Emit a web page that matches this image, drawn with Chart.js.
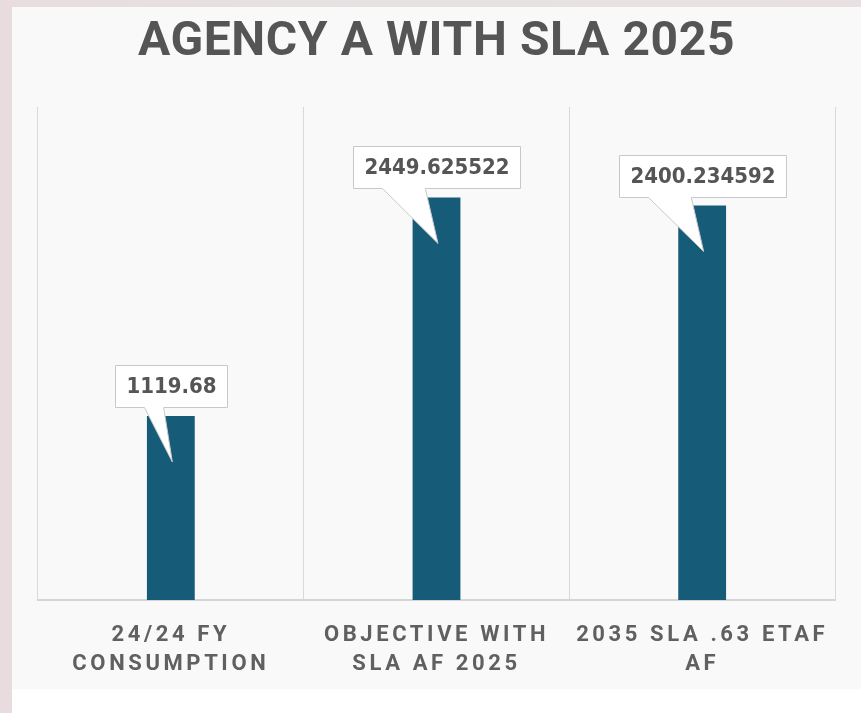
<!DOCTYPE html>
<html>
<head>
<meta charset="utf-8">
<script src="https://cdn.jsdelivr.net/npm/chart.js@4.4.1/dist/chart.umd.min.js"></script>
<style>
  html, body { margin: 0; padding: 0; }
  body {
    width: 861px; height: 713px; overflow: hidden; position: relative;
    background: linear-gradient(90deg, #e8dcde 0%, #e6e2e2 40%, #e9e1e1 100%);
  }
  #panel { position: absolute; left: 12px; top: 7px; width: 849px; height: 706px; background: #ffffff; }
  #wrap { position: absolute; left: 0; top: 0; width: 849px; height: 682px; background: #f9f9f9; }
</style>
</head>
<body>
<div id="panel">
  <div id="wrap"><canvas id="chart" width="849" height="682"></canvas></div>
</div>
<script>
const categories = [
    ['24/24 FY', 'CONSUMPTION'],
    ['OBJECTIVE WITH', 'SLA AF 2025'],
    ['2035 SLA .63 ETAF', 'AF']
];
const values = [1119.68, 2449.625522, 2400.234592];
const yMax = 3000;

const barColor = '#165b78';
const textColor = '#555555';

// letter spacing for the title and the x tick labels
const spacingPlugin = {
    id: 'spacing',
    beforeDraw(chart) {
        if (chart._spaced) return;
        chart._spaced = true;
        const wrap = (obj, name, sp) => {
            const orig = obj[name].bind(obj);
            obj[name] = function (...args) {
                const c = chart.ctx;
                c.save();
                c.letterSpacing = sp;
                orig(...args);
                c.restore();
            };
        };
        wrap(chart.titleBlock, 'draw', '0.6px');
        wrap(chart.scales.x, 'drawLabels', '3.6px');
    }
};

// callout boxes above each bar
const calloutPlugin = {
    id: 'callout',
    afterDatasetsDraw(chart) {
        const ctx = chart.ctx;
        const meta = chart.getDatasetMeta(0);
        ctx.save();
        ctx.letterSpacing = '0px';
        ctx.font = 'bold 22px "DejaVu Sans Condensed", "DejaVu Sans"';
        meta.data.forEach((bar, i) => {
            const text = String(values[i]);
            const w = Math.round(ctx.measureText(text).width + 22);
            const h = 42;
            const left = Math.round(bar.x - w / 2) + 0.5;
            const bottom = Math.round(bar.y - 9) + 0.5;
            const top = bottom - h;
            const bl = left + 29;
            const br = left + w * 0.43;
            const tipX = bar.x + 1.5;
            const tipY = bar.y + 46;

            ctx.beginPath();
            ctx.moveTo(left, top);
            ctx.lineTo(left + w, top);
            ctx.lineTo(left + w, bottom);
            ctx.lineTo(br, bottom);
            ctx.lineTo(tipX, tipY);
            ctx.lineTo(bl, bottom);
            ctx.lineTo(left, bottom);
            ctx.closePath();
            ctx.fillStyle = '#ffffff';
            ctx.fill();
            ctx.strokeStyle = '#c8c8c8';
            ctx.lineWidth = 1;
            ctx.stroke();

            ctx.fillStyle = textColor;
            ctx.textAlign = 'center';
            ctx.textBaseline = 'middle';
            ctx.fillText(text, left + w / 2, top + h / 2 + 1);
        });
        ctx.restore();
    }
};

const ctx = document.getElementById('chart').getContext('2d');
new Chart(ctx, {
    type: 'bar',
    data: {
        labels: categories,
        datasets: [{
            data: values,
            backgroundColor: barColor,
            borderWidth: 0,
            categoryPercentage: 1,
            barPercentage: 0.18
        }]
    },
    options: {
        responsive: false,
        animation: false,
        layout: { padding: { left: 26, right: 26, top: 0, bottom: 0 } },
        plugins: {
            legend: { display: false },
            tooltip: { enabled: false },
            title: {
                display: true,
                text: 'AGENCY A WITH SLA 2025',
                color: textColor,
                font: { family: 'Roboto', size: 48, weight: 'bold', lineHeight: 1.2 },
                padding: { top: 7, bottom: 35.4 }
            }
        },
        scales: {
            x: {
                grid: { display: true, drawTicks: false, color: '#d9d9d9', lineWidth: 1, offset: true },
                border: { display: true, color: '#d6d6d6', width: 2 },
                ticks: {
                    color: '#606060',
                    font: { family: 'Roboto', size: 22, weight: 'bold', lineHeight: 1.32 },
                    padding: 21,
                    maxRotation: 0,
                    autoSkip: false
                },
                afterFit(scale) {
                    scale.height = 89;
                }
            },
            y: {
                display: false,
                min: 0,
                max: yMax
            }
        }
    },
    plugins: [spacingPlugin, calloutPlugin]
});
</script>
</body>
</html>
